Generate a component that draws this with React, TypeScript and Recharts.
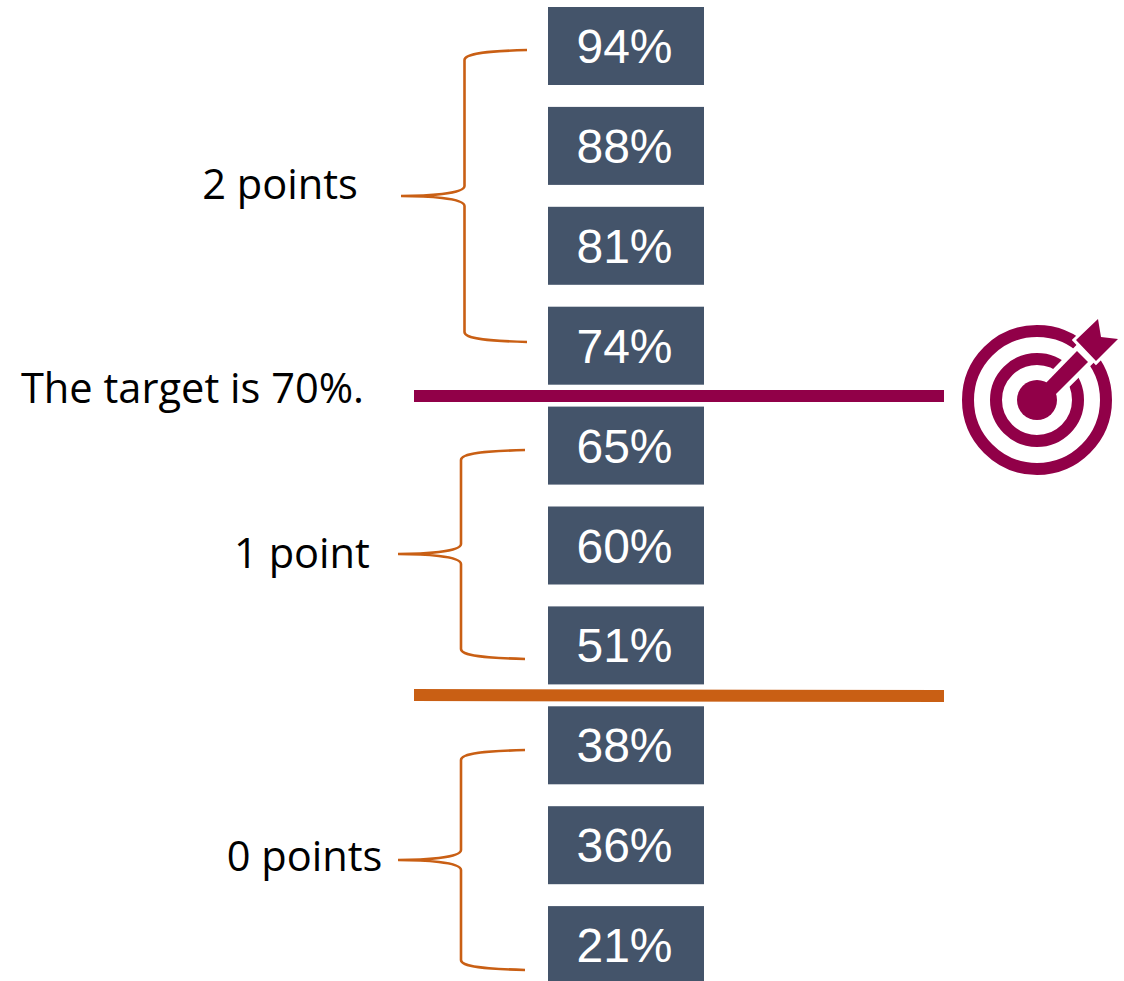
import React from 'react';
import {
  ComposedChart, Scatter, XAxis, YAxis, ReferenceLine, ReferenceArea, ReferenceDot,
} from 'recharts';

const scores = [94, 88, 81, 74, 65, 60, 51, 38, 36, 21];
const tierLabels = ['2 points', '1 point', '0 points'];
const targetLabel = 'The target is 70%.';

// Layout of the diagram, in the units of the hidden axes (page pixels).
const W = 1124;
const H = 981;
const COLUMN = 626;
const BOX_W = 156;
const BOX_H = 78;
const FIRST_ROW = 46;
const ROW_STEP = 99.9;
const ORANGE = '#C95F14';
const PLUM = '#910048';
const NAVY = '#44546A';
const TEXT_FONT = '"Open Sans", sans-serif';

const rows = scores.map((s, i) => ({ label: `${s}%`, rank: i, col: COLUMN }));

const braces = [
  { x1: 401, x2: 527, y1: 50, y2: 342, tipY: 196, spine: 464.5 },
  { x1: 398, x2: 525, y1: 450, y2: 659, tipY: 554, spine: 461 },
  { x1: 398, x2: 525, y1: 750, y2: 970, tipY: 860, spine: 461 },
];
const tierText = [
  { x: 280, y: 199 },
  { x: 302, y: 568 },
  { x: 304.5, y: 871 },
];

const ScoreBox = (p: any) => {
  const { cx, cy, payload } = p;
  return (
    <g>
      <rect x={cx - BOX_W / 2} y={cy - BOX_H / 2} width={BOX_W} height={BOX_H} fill={NAVY} />
      <text
        x={cx - 1.5}
        y={cy + 17}
        textAnchor="middle"
        fill="#fff"
        fontSize={48}
        fontFamily='"Liberation Sans", Arial, sans-serif'
      >
        {payload.label}
      </text>
    </g>
  );
};

const Brace = (tipOffset: number, spineOffset: number) => (p: any) => {
  const { x, y, width, height } = p;
  const sx = x + spineOffset;
  const ty = y + tipOffset;
  const b = y + height;
  const d = [
    `M${x + width} ${y}`,
    `C${sx + 25} ${y + 1} ${sx} ${y + 3} ${sx} ${y + 10}`,
    `L${sx} ${ty - 10}`,
    `C${sx} ${ty - 2} ${x + 25} ${ty} ${x} ${ty}`,
    `C${x + 25} ${ty} ${sx} ${ty + 2} ${sx} ${ty + 10}`,
    `L${sx} ${b - 10}`,
    `C${sx} ${b - 3} ${sx + 25} ${b - 1} ${x + width} ${b}`,
  ].join(' ');
  return <path d={d} fill="none" stroke={ORANGE} strokeWidth={2.6} />;
};

const Words = (text: string) => (p: any) => (
  <text x={p.cx} y={p.cy} textAnchor="middle" fontFamily={TEXT_FONT} fontSize={41.6} fill="#000">
    {text}
  </text>
);

const Target = (p: any) => {
  const { cx, cy } = p;
  const flight = [[61, -81], [64, -63], [81, -61], [59, -39], [39, -60]]
    .map(([a, b]) => `${cx + a},${cy + b}`).join(' ');
  const shaft = [[5, -13], [40, -49], [51, -38], [14, -1]]
    .map(([a, b]) => `${cx + a},${cy + b}`).join(' ');
  return (
    <g>
      <circle cx={cx} cy={cy} r={69} fill="none" stroke={PLUM} strokeWidth={12} />
      <circle cx={cx} cy={cy} r={41} fill="none" stroke={PLUM} strokeWidth={12} />
      <polygon points={shaft} fill="#fff" stroke="#fff" strokeWidth={9} />
      <polygon points={flight} fill="#fff" stroke="#fff" strokeWidth={6} />
      <circle cx={cx} cy={cy} r={20} fill={PLUM} />
      <polygon points={shaft} fill={PLUM} />
      <polygon points={flight} fill={PLUM} />
    </g>
  );
};

export default function App() {
  return (
    <div style={{ position: 'absolute', left: 0, top: 0, width: W, height: H, background: '#fff' }}>
      <ComposedChart width={W} height={H} margin={{ top: 0, right: 0, bottom: 0, left: 0 }}>
        <XAxis type="number" dataKey="col" domain={[0, W]} allowDataOverflow hide />
        <YAxis yAxisId="rank" type="number" dataKey="rank" reversed allowDataOverflow hide
          domain={[-FIRST_ROW / ROW_STEP, (H - FIRST_ROW) / ROW_STEP]} />
        <YAxis yAxisId="px" type="number" domain={[0, H]} reversed allowDataOverflow hide />
        <Scatter yAxisId="rank" data={rows} dataKey="rank" shape={ScoreBox} isAnimationActive={false} />
        <ReferenceLine yAxisId="px" ifOverflow="visible" segment={[{ x: 414, y: 396 }, { x: 944, y: 396 }]} stroke={PLUM} strokeWidth={12} />
        <ReferenceLine yAxisId="px" ifOverflow="visible" segment={[{ x: 414, y: 695 }, { x: 944, y: 696 }]} stroke={ORANGE} strokeWidth={12} />
        {braces.map((b, i) => (
          <ReferenceArea
            key={i}
            yAxisId="px"
            ifOverflow="visible"
            x1={b.x1}
            x2={b.x2}
            y1={b.y1}
            y2={b.y2}
            shape={Brace(b.tipY - b.y1, b.spine - b.x1)}
          />
        ))}
        {tierLabels.map((t, i) => (
          <ReferenceDot key={t} yAxisId="px" ifOverflow="visible" x={tierText[i].x} y={tierText[i].y} shape={Words(t)} />
        ))}
        <ReferenceDot yAxisId="px" ifOverflow="visible" x={192.5} y={403} shape={Words(targetLabel)} />
        <ReferenceDot yAxisId="px" ifOverflow="visible" x={1037} y={400} shape={Target} />
      </ComposedChart>
    </div>
  );
}
